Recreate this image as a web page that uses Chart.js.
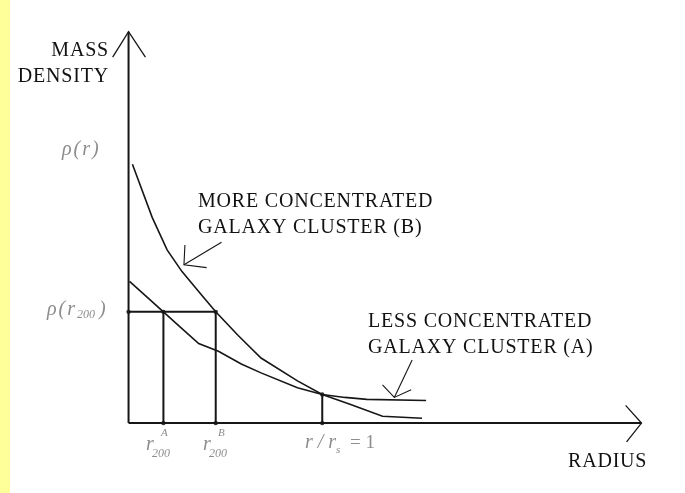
<!DOCTYPE html>
<html>
<head>
<meta charset="utf-8">
<script src="https://cdn.jsdelivr.net/npm/chart.js@4.4.0/dist/chart.umd.min.js"></script>
<style>
  html, body { margin: 0; padding: 0; background: #fff; }
  #wrap { width: 685px; height: 493px; }
</style>
</head>
<body>
<div id="wrap"><canvas id="chart" width="685" height="493"></canvas></div>
<script>
// radius in units of r_s, density in units of rho(r_s)
const radiusB  = [0.02, 0.122, 0.199, 0.276, 0.378, 0.45, 0.566, 0.684, 0.872, 1.0, 1.143, 1.311, 1.515];
const densityB = [9.07, 7.21, 6.07, 5.31, 4.48, 3.9, 3.07, 2.28, 1.48, 1.0, 0.66, 0.24, 0.17];
const radiusA  = [0.005, 0.097, 0.18, 0.26, 0.362, 0.464, 0.582, 0.684, 0.872, 1.0, 1.117, 1.23, 1.536];
const densityA = [4.97, 4.41, 3.9, 3.41, 2.79, 2.52, 2.07, 1.76, 1.24, 1.0, 0.90, 0.83, 0.79];

const r200A = 0.18;
const r200B = 0.45;
const rho200 = 3.9;
const rs = 1.0;
const rhoAtRs = 1.0;

// hand drawn axes and pointer arrows, in the same units
const axisTopY = 13.72;
const axisEndX = 2.648;
const yArrow = [[-0.082, 12.83], [0, axisTopY], [0.087, 12.83]];
const xArrow = [[2.566, 0.62], [axisEndX, 0], [2.571, -0.66]];
const pointerB = [[0.48, 6.34], [0.286, 5.55]];
const pointerBHead = [[0.291, 6.24], [0.286, 5.55], [0.403, 5.45]];
const pointerA = [[1.464, 2.21], [1.372, 0.9]];
const pointerAHead = [[1.311, 1.34], [1.372, 0.9], [1.459, 1.17]];

const pts = arr => arr.map(p => ({ x: p[0], y: p[1] }));
const zip = (xs, ys) => xs.map((x, i) => ({ x: x, y: ys[i] }));

const ink = '#161616';
function stroke(data, width) {
  return {
    data: data,
    showLine: true,
    borderColor: ink,
    borderWidth: width || 1.6,
    pointRadius: 0,
    tension: 0,
    fill: false
  };
}

const datasets = [
  stroke([{ x: 0, y: 0 }, { x: 0, y: axisTopY }], 2),
  stroke([{ x: 0, y: 0 }, { x: axisEndX, y: 0 }], 2),
  stroke(pts(yArrow), 1.3),
  stroke(pts(xArrow), 1.3),
  stroke(zip(radiusB, densityB), 1.6),
  stroke(zip(radiusA, densityA), 1.6),
  stroke([{ x: 0, y: rho200 }, { x: r200B, y: rho200 }], 2),
  stroke([{ x: r200A, y: rho200 }, { x: r200A, y: 0 }], 2),
  stroke([{ x: r200B, y: rho200 }, { x: r200B, y: 0 }], 2),
  stroke([{ x: rs, y: rhoAtRs }, { x: rs, y: 0 }], 2),
  stroke(pts(pointerB), 1.1),
  stroke(pts(pointerBHead), 1.1),
  stroke(pts(pointerA), 1.1),
  stroke(pts(pointerAHead), 1.1),
  {
    data: [
      { x: 0, y: rho200 }, { x: r200A, y: rho200 }, { x: r200B, y: rho200 },
      { x: r200A, y: 0 }, { x: r200B, y: 0 }, { x: rs, y: 0 }, { x: rs, y: rhoAtRs }
    ],
    showLine: false,
    pointRadius: 2.2,
    pointBackgroundColor: '#333',
    pointBorderWidth: 0
  }
];

const sideStrip = {
  id: 'sideStrip',
  beforeDraw(chart) {
    const ctx = chart.ctx;
    ctx.save();
    ctx.fillStyle = '#fff';
    ctx.fillRect(0, 0, chart.width, chart.height);
    ctx.fillStyle = '#ffff99';
    ctx.fillRect(0, 0, 10, chart.height);
    ctx.restore();
  }
};

const labels = {
  id: 'labels',
  afterDraw(chart) {
    const ctx = chart.ctx;
    ctx.save();
    ctx.textBaseline = 'alphabetic';
    ctx.fillStyle = '#111';
    ctx.font = '20px "Liberation Serif"';
    ctx.letterSpacing = '0.8px';
    ctx.textAlign = 'right';
    ctx.fillText('MASS', 109, 56);
    ctx.fillText('DENSITY', 109, 82);
    ctx.textAlign = 'left';
    ctx.fillText('MORE CONCENTRATED', 198, 207);
    ctx.fillText('GALAXY CLUSTER (B)', 198, 233);
    ctx.fillText('LESS CONCENTRATED', 368, 327);
    ctx.fillText('GALAXY CLUSTER (A)', 368, 353);
    ctx.fillText('RADIUS', 568, 467);

    // gray italic tick labels
    ctx.fillStyle = '#8c8c8c';
    ctx.letterSpacing = '2px';
    ctx.font = 'italic 20px "Liberation Serif"';
    ctx.fillText('\u03c1(r)', 62, 155);
    ctx.fillText('\u03c1(r', 47, 315);
    let w = ctx.measureText('\u03c1(r').width;
    ctx.letterSpacing = '0px';
    ctx.font = 'italic 12px "Liberation Serif"';
    ctx.fillText('200', 47 + w, 318);
    let w2 = ctx.measureText('200').width;
    ctx.font = 'italic 20px "Liberation Serif"';
    ctx.fillText(')', 47 + w + w2 + 4, 315);

    const rLabel = (x, sup) => {
      ctx.font = 'italic 20px "Liberation Serif"';
      ctx.fillText('r', x, 450);
      ctx.font = 'italic 11px "Liberation Serif"';
      ctx.fillText(sup, x + 15, 436);
      ctx.font = 'italic 12px "Liberation Serif"';
      ctx.fillText('200', x + 6, 457);
    };
    rLabel(146, 'A');
    rLabel(203, 'B');

    ctx.font = 'italic 20px "Liberation Serif"';
    ctx.fillText('r / r', 305, 448);
    let w3 = ctx.measureText('r / r').width;
    ctx.font = 'italic 11px "Liberation Serif"';
    ctx.fillText('s', 305 + w3, 453);
    ctx.font = '19px "Liberation Serif"';
    ctx.fillText('= 1', 350, 448);
    ctx.restore();
  }
};

new Chart(document.getElementById('chart'), {
  type: 'scatter',
  data: { datasets: datasets },
  options: {
    responsive: false,
    animation: false,
    layout: { padding: 0 },
    plugins: { legend: { display: false }, tooltip: { enabled: false } },
    scales: {
      x: { type: 'linear', min: -0.643, max: 2.852, display: false },
      y: { type: 'linear', min: -2.31, max: 14.69, display: false }
    }
  },
  plugins: [sideStrip, labels]
});
</script>
</body>
</html>
